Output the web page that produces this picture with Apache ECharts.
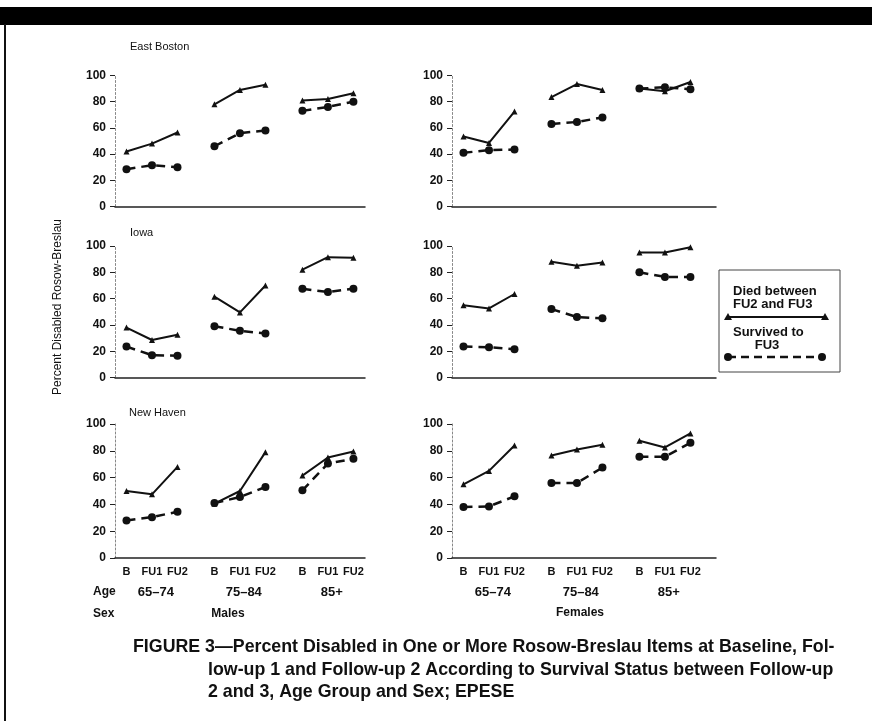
<!DOCTYPE html>
<html>
<head>
<meta charset="utf-8">
<script src="https://cdn.jsdelivr.net/npm/echarts@6/dist/echarts.min.js"></script>
<style>
html,body{margin:0;padding:0;background:#fff;}
#main{width:872px;height:721px;}
</style>
</head>
<body>
<div id="main"></div>
<script>
// ---- data ----
const groups = ['65\u201374', '75\u201384', '85+'];
const visits = ['B', 'FU1', 'FU2'];
const yTicks = [0, 20, 40, 60, 80, 100];
const sites = ['East Boston', 'Iowa', 'New Haven'];
const sexes = ['Males', 'Females'];

// values per age group [B, FU1, FU2]
const ebMaleDied = [[42, 48, 56.5], [78, 89, 93], [81, 82, 86.5]];
const ebMaleSurv = [[28.5, 31.5, 30], [46, 56, 58], [73, 76, 80]];
const ebFemDied  = [[53.5, 48.5, 72.5], [83.5, 93.5, 89], [90, 88, 95]];
const ebFemSurv  = [[41, 43, 43.5], [63, 64.5, 68], [90, 91, 89.5]];
const iaMaleDied = [[38, 28.5, 32.5], [61.5, 49.5, 70], [82, 91.5, 91]];
const iaMaleSurv = [[23.5, 17, 16.5], [39, 35.5, 33.5], [67.5, 65, 67.5]];
const iaFemDied  = [[55, 52.5, 63.5], [88, 85, 87.5], [95, 95, 99]];
const iaFemSurv  = [[23.5, 23, 21.5], [52, 46, 45], [80, 76.5, 76.5]];
const nhMaleDied = [[50, 47.5, 68], [40.5, 50, 79], [61.5, 75, 79.5]];
const nhMaleSurv = [[28, 30.5, 34.5], [41, 45.5, 53], [50.5, 70.5, 74]];
const nhFemDied  = [[55, 65, 84], [76.5, 81, 84.5], [87.5, 82.5, 93]];
const nhFemSurv  = [[38, 38.5, 46], [56, 56, 67.5], [75.5, 75.5, 86]];

const panels = [
  [ebMaleDied, ebMaleSurv], [ebFemDied, ebFemSurv],
  [iaMaleDied, iaMaleSurv], [iaFemDied, iaFemSurv],
  [nhMaleDied, nhMaleSurv], [nhFemDied, nhFemSurv]
];

// ---- layout ----
const groupStep = 3.45;
const pos = (g, t) => g * groupStep + t;
const visitPositions = [];
groups.forEach((_, g) => visits.forEach((_, t) => visitPositions.push(pos(g, t))));
const groupCenters = groups.map((_, g) => pos(g, 1) + 0.15);

const rowTop = [75.5, 246, 424];
const rowH = [131, 131.5, 134];
const colLeft = [115, 452];
const colW = [250, 264];
const unitPx = 25.5;
const xMin = -0.45;

const FONT = 'Liberation Sans, Arial, Helvetica, sans-serif';

const grids = [], xAxes = [], yAxes = [], series = [];
for (let r = 0; r < 3; r++) {
  for (let c = 0; c < 2; c++) {
    const gi = r * 2 + c;
    grids.push({ left: colLeft[c], top: rowTop[r], width: colW[c], height: rowH[r], containLabel: false });
    const bottomRow = r === 2;
    xAxes.push({
      gridIndex: gi, type: 'value', min: xMin, max: xMin + colW[c] / unitPx,
      axisLine: { show: true, onZero: false, lineStyle: { color: '#222', width: 1.5 } },
      axisTick: { show: false },
      splitLine: { show: false },
      axisLabel: bottomRow ? {
        show: true, customValues: visitPositions, margin: 8,
        color: '#111', fontFamily: FONT, fontWeight: 'bold', fontSize: 11,
        formatter: (v) => {
          const i = visitPositions.findIndex(p => Math.abs(p - v) < 1e-6);
          return i >= 0 ? visits[i % 3] : '';
        }
      } : { show: false }
    });
    yAxes.push({
      gridIndex: gi, type: 'value', min: 0, max: 100, interval: 20,
      axisLine: { show: true, onZero: false, lineStyle: { color: '#888', width: 1, type: [2, 2] } },
      axisTick: { show: true, length: 5, lineStyle: { color: '#222', width: 1 } },
      splitLine: { show: false },
      axisLabel: { margin: 9, color: '#111', fontFamily: FONT, fontWeight: 'bold', fontSize: 12 }
    });
    const [died, surv] = panels[gi];
    groups.forEach((_, g) => {
      series.push({
        type: 'line', xAxisIndex: gi, yAxisIndex: gi,
        data: visits.map((_, t) => [pos(g, t), died[g][t]]),
        symbol: 'triangle', symbolSize: 6, showSymbol: true,
        lineStyle: { color: '#111', width: 2, type: 'solid' },
        itemStyle: { color: '#111' }, silent: true
      });
      series.push({
        type: 'line', xAxisIndex: gi, yAxisIndex: gi,
        data: visits.map((_, t) => [pos(g, t), surv[g][t]]),
        symbol: 'circle', symbolSize: 8, showSymbol: true,
        lineStyle: { color: '#111', width: 2.5, type: [9, 6] },
        itemStyle: { color: '#111' }, silent: true
      });
    });
  }
}
// age group axes for bottom row
[4, 5].forEach((gi) => {
  const c = gi % 2;
  xAxes.push({
    gridIndex: gi, type: 'value', position: 'bottom', offset: 20,
    min: xMin, max: xMin + colW[c] / unitPx,
    axisLine: { show: false }, axisTick: { show: false }, splitLine: { show: false },
    axisLabel: {
      show: true, customValues: groupCenters, margin: 8,
      color: '#111', fontFamily: FONT, fontWeight: 'bold', fontSize: 13,
      formatter: (v) => {
        const i = groupCenters.findIndex(p => Math.abs(p - v) < 1e-6);
        return i >= 0 ? groups[i] : '';
      }
    }
  });
});

const txt = (text, x, y, size, weight, align, extra) => Object.assign({
  type: 'text', x: x, y: y,
  style: { text: text, font: (weight || 'normal') + ' ' + size + 'px ' + FONT, fill: '#111',
           textAlign: align || 'left', textVerticalAlign: 'middle' }
}, extra || {});

const graphic = [
  { type: 'rect', shape: { x: 0, y: 7, width: 872, height: 18 }, style: { fill: '#000' } },
  { type: 'rect', shape: { x: 4, y: 24, width: 2, height: 697 }, style: { fill: '#111' } },
  txt(sites[0], 130, 47, 11, 'normal'),
  txt(sites[1], 130, 233, 11, 'normal'),
  txt(sites[2], 129, 413, 11, 'normal'),
  txt('Percent Disabled Rosow-Breslau', 58, 307, 12, 'normal', 'center', { rotation: Math.PI / 2 }),
  txt('Age', 93, 592, 12, 'bold'),
  txt('Sex', 93, 614, 12, 'bold'),
  txt(sexes[0], 228, 614, 12, 'bold', 'center'),
  txt(sexes[1], 580, 613, 12, 'bold', 'center'),
  // legend box
  { type: 'rect', shape: { x: 719, y: 270, width: 121, height: 102 }, style: { fill: '#fff', stroke: '#444', lineWidth: 1 } },
  txt('Died between', 733, 291, 13, 'bold'),
  txt('FU2 and FU3', 733, 304, 13, 'bold'),
  { type: 'line', shape: { x1: 728, y1: 317, x2: 825, y2: 317 }, style: { stroke: '#111', lineWidth: 2 } },
  { type: 'polygon', shape: { points: [[724, 320], [728, 313], [732, 320]] }, style: { fill: '#111' } },
  { type: 'polygon', shape: { points: [[821, 320], [825, 313], [829, 320]] }, style: { fill: '#111' } },
  txt('Survived to', 733, 332, 13, 'bold'),
  txt('FU3', 767, 345, 13, 'bold', 'center'),
  { type: 'line', shape: { x1: 728, y1: 357, x2: 822, y2: 357 }, style: { stroke: '#111', lineWidth: 2.5, lineDash: [8, 5] } },
  { type: 'circle', shape: { cx: 728, cy: 357, r: 4 }, style: { fill: '#111' } },
  { type: 'circle', shape: { cx: 822, cy: 357, r: 4 }, style: { fill: '#111' } },
  // caption
  txt('FIGURE 3\u2014Percent Disabled in One or More Rosow-Breslau Items at Baseline, Fol-', 133, 647, 17.8, 'bold'),
  txt('low-up 1 and Follow-up 2 According to Survival Status between Follow-up', 208, 670, 17.8, 'bold'),
  txt('2 and 3, Age Group and Sex; EPESE', 208, 692, 17.8, 'bold')
];

const chart = echarts.init(document.getElementById('main'));
chart.setOption({
  animation: false,
  backgroundColor: '#fff',
  grid: grids, xAxis: xAxes, yAxis: yAxes, series: series,
  graphic: graphic
});
</script>
</body>
</html>
